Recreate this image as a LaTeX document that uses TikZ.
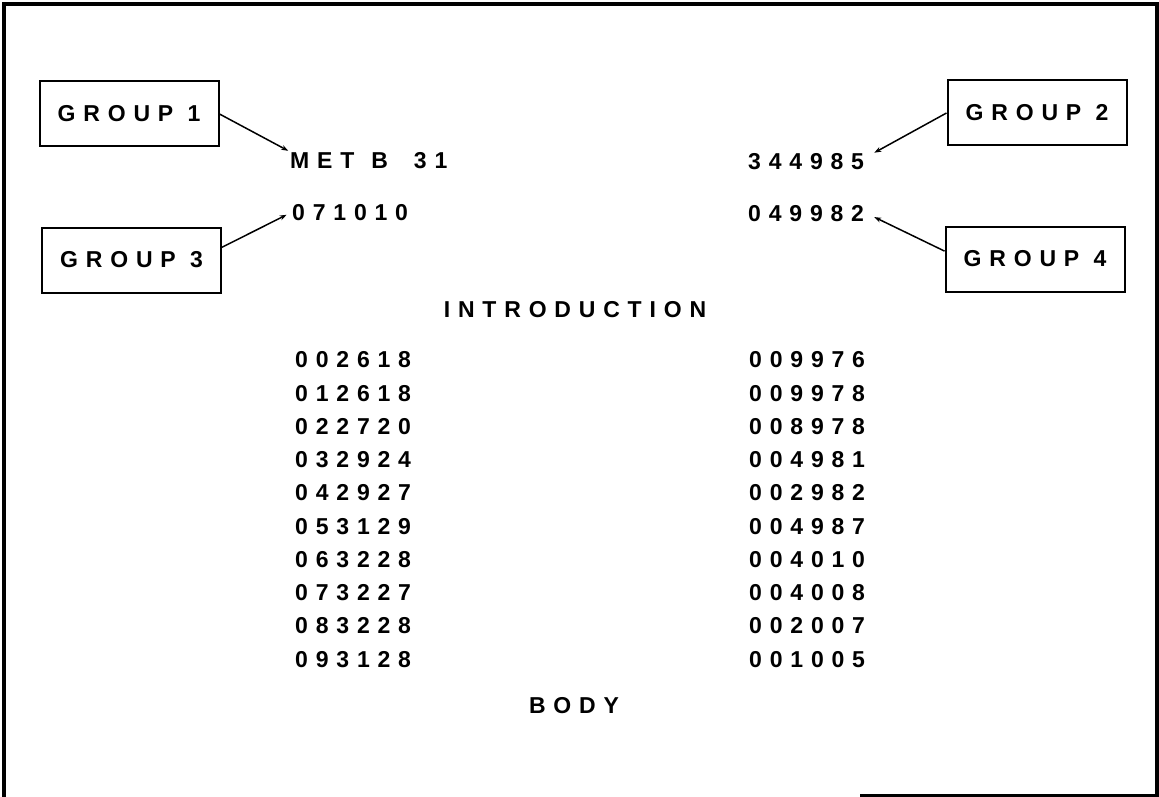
\documentclass[tikz,border=0pt]{standalone}
\usepackage{fontspec}
\newfontfamily\plainfont{Liberation Sans Bold}[LetterSpace=34]
\usetikzlibrary{arrows.meta}

\begin{document}
\begin{tikzpicture}[x=1pt,y=-1pt,
  lbl/.style={font=\plainfont\fontsize{23}{27}\selectfont, inner sep=0pt},
  item/.style={lbl, anchor=base west},
  grpbox/.style={lbl, draw, line width=2pt, minimum width=179pt, minimum height=65pt},
  callout/.style={-{Stealth[length=7pt,width=5pt]}, line width=1.5pt}]
\useasboundingbox (0,0) rectangle (1159,797);

% frame
\draw [line width=3.5pt] (4,797) -- (4,4) -- (1157,4) -- (1157,797);
\draw [line width=2.5pt] (860,795.5) -- (1159,795.5);

\path (129,114) node (g1) [grpbox] {GROUP 1};
\path (1037,113) node (g2) [grpbox] {GROUP 2};
\path (131.5,260) node (g3) [grpbox] {GROUP 3};
\path (1035,259) node (g4) [grpbox] {GROUP 4};

\path (290,168) node (met) [item] {MET\hspace{17pt}B\hspace{26pt}31};
\path (292,220) node (n071010) [item] {071010};
\path (748,169) node (n344985) [item] {344985};
\path (748,221) node (n049982) [item] {049982};

\path (575,317) node (intro) [lbl, anchor=base] {INTRODUCTION};

\path (295,367) node (l1) [item] {002618};
\path (295,401) node (l2) [item] {012618};
\path (295,434) node (l3) [item] {022720};
\path (295,467) node (l4) [item] {032924};
\path (295,500) node (l5) [item] {042927};
\path (295,534) node (l6) [item] {053129};
\path (295,567) node (l7) [item] {063228};
\path (295,600) node (l8) [item] {073227};
\path (295,633) node (l9) [item] {083228};
\path (295,667) node (l10) [item] {093128};

\path (749,367) node (r1) [item] {009976};
\path (749,401) node (r2) [item] {009978};
\path (749,434) node (r3) [item] {008978};
\path (749,467) node (r4) [item] {004981};
\path (749,500) node (r5) [item] {002982};
\path (749,534) node (r6) [item] {004987};
\path (749,567) node (r7) [item] {004010};
\path (749,600) node (r8) [item] {004008};
\path (749,633) node (r9) [item] {002007};
\path (749,667) node (r10) [item] {001005};

\path (574,713) node (body) [lbl, anchor=base] {BODY};

\draw [callout, shorten >=2pt] (g1.east) to (met.north west);
\draw [callout, shorten >=6pt] (g3.8) to (n071010.west);
\draw [callout] (g2.west) to ([xshift=10pt]n344985.north east);
\draw [callout] (g4.175) to ([shift={(10,4)}]n049982.east);

\end{tikzpicture}
\end{document}
